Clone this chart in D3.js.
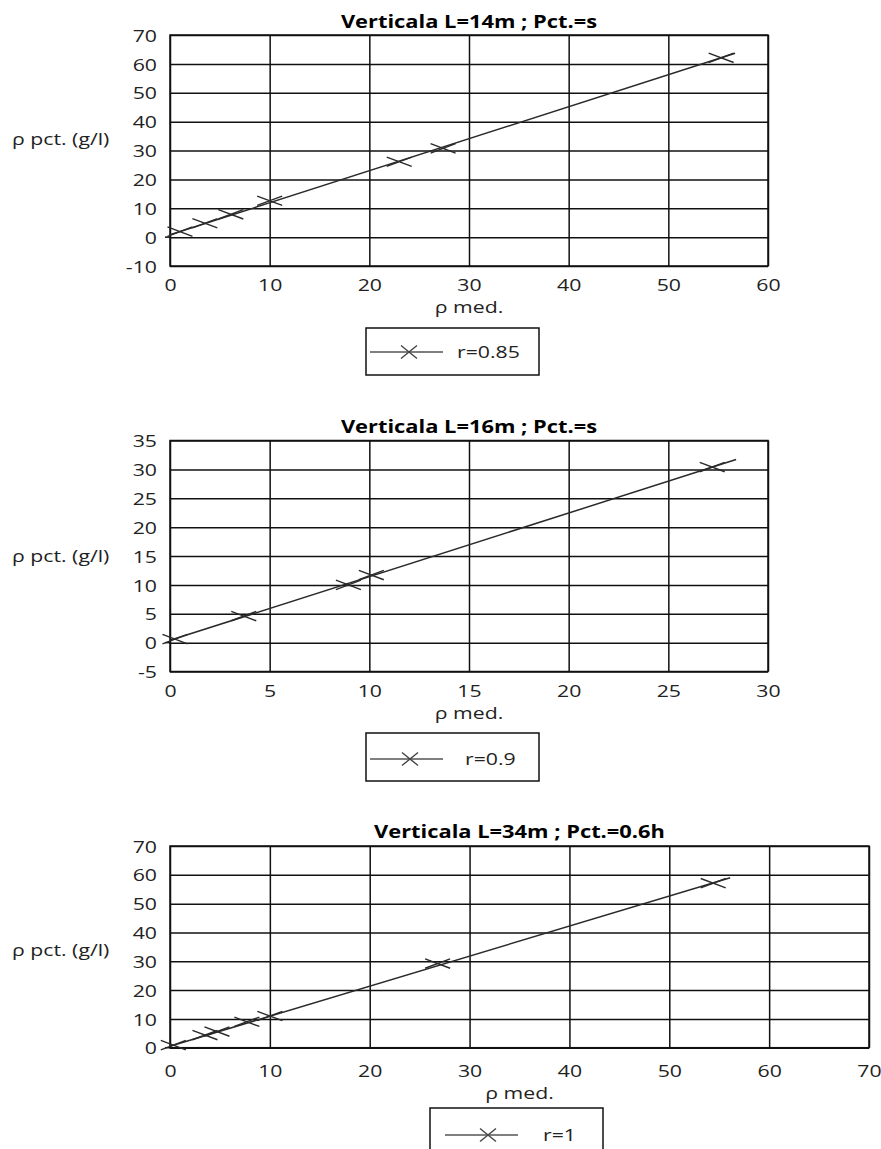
<!DOCTYPE html>
<html>
<head>
<meta charset="utf-8">
<script src="https://cdn.jsdelivr.net/npm/d3@7"></script>
<style>
  html, body { margin: 0; padding: 0; background: #fff; }
  svg { display: block; font-family: "Open Sans", "Liberation Sans", Arial, sans-serif; }
</style>
</head>
<body>
<svg id="chart" width="881" height="1149"></svg>
<script>
// ---- Vertical L=14m, point s ----
const v14Title = "Verticala L=14m ; Pct.=s";
const v14Legend = "r=0.85";
const v14MedX = [1.0, 3.5, 6.1, 10.0, 23.0, 27.4, 55.3];
const v14PctY = [1.9, 4.8, 7.9, 12.6, 26.1, 30.75, 62.1];
const v14TrendX = [0, 56.7];
const v14TrendY = [0.8, 63.7];
const v14XTicks = [0, 10, 20, 30, 40, 50, 60];
const v14YTicks = [-10, 0, 10, 20, 30, 40, 50, 60, 70];

// ---- Vertical L=16m, point s ----
const v16Title = "Verticala L=16m ; Pct.=s";
const v16Legend = "r=0.9";
const v16MedX = [0.25, 3.7, 8.95, 10.1, 27.2];
const v16PctY = [0.6, 4.6, 10.0, 11.7, 30.4];
const v16TrendX = [0, 28.4];
const v16TrendY = [0.4, 31.7];
const v16XTicks = [0, 5, 10, 15, 20, 25, 30];
const v16YTicks = [-5, 0, 5, 10, 15, 20, 25, 30, 35];

// ---- Vertical L=34m, point 0.6h ----
const v34Title = "Verticala L=34m ; Pct.=0.6h";
const v34Legend = "r=1";
const v34MedX = [0.33, 3.5, 4.7, 7.7, 10.0, 26.8, 54.4];
const v34PctY = [0.9, 4.4, 5.6, 9.0, 11.0, 29.2, 57.1];
const v34TrendX = [0, 56.1];
const v34TrendY = [0.5, 59.0];
const v34XTicks = [0, 10, 20, 30, 40, 50, 60, 70];
const v34YTicks = [0, 10, 20, 30, 40, 50, 60, 70];

const xAxisTitle = "\u03c1 med.";
const yAxisTitle = "\u03c1 pct. (g/l)";

const SX = 1.25;            // horizontal stretch applied to all text
const FONT = "Open Sans, Liberation Sans, Arial, sans-serif";
const INK = "#111";
const SERIES = "#2a2a2a";

const svg = d3.select("#chart");

function stretchedText(g, x, y, str, opts) {
  const t = g.append("text")
    .attr("transform", `translate(${x},${y}) scale(${SX},1)`)
    .attr("font-family", FONT)
    .attr("font-size", opts.size)
    .attr("fill", opts.fill || INK)
    .attr("text-anchor", opts.anchor || "start")
    .text(str);
  if (opts.bold) t.attr("font-weight", "bold");
  return t;
}

function crossPath(cx, cy, hw, hh) {
  return `M${cx - hw},${cy - hh}L${cx + hw},${cy + hh}M${cx - hw},${cy + hh}L${cx + hw},${cy - hh}`;
}

function drawChart(d, L) {
  const g = svg.append("g");
  const x = d3.scaleLinear().domain(d3.extent(d.xTicks)).range([L.left, L.right]);
  const y = d3.scaleLinear().domain(d3.extent(d.yTicks)).range([L.bottom, L.top]);
  const h = L.bottom - L.top, w = L.right - L.left;

  // grid lines
  const gx = g.append("g").attr("transform", `translate(0,${L.bottom})`)
    .call(d3.axisBottom(x).tickValues(d.xTicks).tickSize(-h).tickFormat(""));
  const gy = g.append("g").attr("transform", `translate(${L.left},0)`)
    .call(d3.axisLeft(y).tickValues(d.yTicks).tickSize(-w).tickFormat(""));
  [gx, gy].forEach(a => {
    a.select(".domain").remove();
    a.selectAll("line").attr("stroke", INK).attr("stroke-width", 1.5);
  });
  // short stub of the zero line left of the plot
  g.append("line")
    .attr("x1", L.left - 5).attr("x2", L.left)
    .attr("y1", y(0)).attr("y2", y(0))
    .attr("stroke", INK).attr("stroke-width", 1.5);
  // plot border
  g.append("rect")
    .attr("x", L.left).attr("y", L.top).attr("width", w).attr("height", h)
    .attr("fill", "none").attr("stroke", INK).attr("stroke-width", 1.5);

  // tick labels
  const lx = g.append("g").attr("transform", `translate(0,${L.xTickY})`)
    .call(d3.axisBottom(x).tickValues(d.xTicks).tickSize(0).tickFormat(v => String(v)));
  lx.select(".domain").remove();
  lx.selectAll("text")
    .attr("y", 0).attr("dy", 0)
    .attr("font-size", 17).attr("font-family", FONT)
    .attr("fill", "#222")
    .attr("transform", `scale(${SX},1)`);

  const ly = g.append("g").attr("transform", `translate(${L.left - 13},0)`)
    .call(d3.axisLeft(y).tickValues(d.yTicks).tickSize(0).tickFormat(v => String(v)));
  ly.select(".domain").remove();
  ly.selectAll("text")
    .attr("x", 0).attr("dy", "0.36em")
    .attr("font-size", 17).attr("font-family", FONT)
    .attr("fill", "#222")
    .attr("transform", `scale(${SX},1)`);

  // titles
  stretchedText(g, (L.left + L.right) / 2, L.titleY, d.title, { size: 17.5, bold: true, anchor: "middle", fill: "#000" });
  stretchedText(g, (L.left + L.right) / 2, L.xLabelY, xAxisTitle, { size: 17, anchor: "middle", fill: "#222" });
  stretchedText(g, 12, L.yLabelY, yAxisTitle, { size: 17, fill: "#222" });

  // trend line
  const trend = d.trendX.map((v, i) => [v, d.trendY[i]]);
  g.append("path")
    .attr("d", d3.line().x(p => x(p[0])).y(p => y(p[1]))(trend))
    .attr("fill", "none").attr("stroke", SERIES).attr("stroke-width", 1.5);

  // point markers
  const pts = d.medX.map((v, i) => [v, d.pctY[i]]);
  g.append("g").selectAll("path").data(pts).join("path")
    .attr("d", p => crossPath(x(p[0]), y(p[1]), 12.5, 4.7))
    .attr("fill", "none").attr("stroke", SERIES).attr("stroke-width", 1.4);

  // legend
  const lg = L.legend;
  g.append("rect")
    .attr("x", lg.x).attr("y", lg.y).attr("width", lg.w).attr("height", lg.h)
    .attr("fill", "#fff").attr("stroke", INK).attr("stroke-width", 1.5);
  g.append("line")
    .attr("x1", lg.lineX1).attr("x2", lg.lineX2).attr("y1", lg.lineY).attr("y2", lg.lineY)
    .attr("stroke", "#555").attr("stroke-width", 1.6);
  g.append("path")
    .attr("d", crossPath(lg.markX, lg.lineY, 8, 6.5))
    .attr("fill", "none").attr("stroke", "#444").attr("stroke-width", 1.4);
  stretchedText(g, lg.textX, lg.textY, d.legend, { size: 17, fill: "#222" });
}

drawChart(
  { title: v14Title, legend: v14Legend, medX: v14MedX, pctY: v14PctY, trendX: v14TrendX, trendY: v14TrendY, xTicks: v14XTicks, yTicks: v14YTicks },
  { left: 170, right: 768, top: 35, bottom: 266, titleY: 28, xTickY: 291, xLabelY: 313, yLabelY: 145,
    legend: { x: 366, y: 328, w: 173, h: 47, lineX1: 370, lineX2: 443, markX: 409, lineY: 352, textX: 457, textY: 358 } }
);
drawChart(
  { title: v16Title, legend: v16Legend, medX: v16MedX, pctY: v16PctY, trendX: v16TrendX, trendY: v16TrendY, xTicks: v16XTicks, yTicks: v16YTicks },
  { left: 170, right: 768, top: 440.5, bottom: 671.5, titleY: 433, xTickY: 697, xLabelY: 719, yLabelY: 562,
    legend: { x: 366, y: 733, w: 173, h: 48, lineX1: 370, lineX2: 443, markX: 410, lineY: 759, textX: 465, textY: 765 } }
);
drawChart(
  { title: v34Title, legend: v34Legend, medX: v34MedX, pctY: v34PctY, trendX: v34TrendX, trendY: v34TrendY, xTicks: v34XTicks, yTicks: v34YTicks },
  { left: 170, right: 869, top: 846, bottom: 1047.7, titleY: 838, xTickY: 1077, xLabelY: 1099, yLabelY: 956,
    legend: { x: 430, y: 1108, w: 173, h: 60, lineX1: 445, lineX2: 518, markX: 488, lineY: 1135, textX: 543, textY: 1141 } }
);
</script>
</body>
</html>
